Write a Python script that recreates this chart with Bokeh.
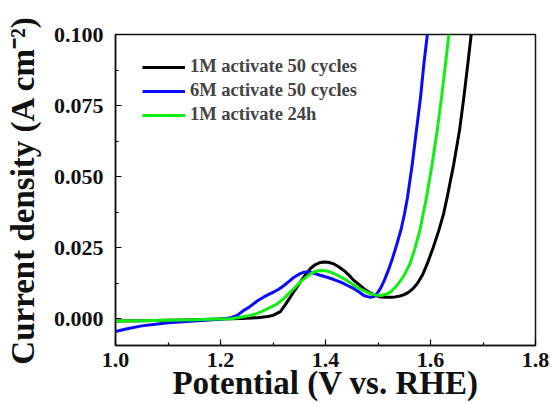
from bokeh.plotting import figure
from bokeh.models import Range1d, FixedTicker, NumeralTickFormatter, Legend, LegendItem
from bokeh.embed import file_html
from bokeh.resources import INLINE

# ---- data ----
black_v = [1.00, 1.05, 1.10, 1.15, 1.20, 1.24, 1.27, 1.29, 1.30, 1.314, 1.323, 1.333, 1.342, 1.352,
           1.362, 1.371, 1.38, 1.39, 1.397, 1.405, 1.416, 1.425, 1.435, 1.445, 1.454, 1.464, 1.473,
           1.486, 1.495, 1.505, 1.515, 1.524, 1.533, 1.542, 1.55, 1.558, 1.566, 1.5746, 1.585, 1.5937,
           1.605, 1.6159, 1.625, 1.6318, 1.6444, 1.6552, 1.6635, 1.6711, 1.6775]
black_j = [-0.0008, -0.0007, -0.0005, -0.0003, -0.0001, 0.0001, 0.0004, 0.0008, 0.0012, 0.0025,
           0.0048, 0.0076, 0.0102, 0.0129, 0.0155, 0.0176, 0.0190, 0.0198, 0.0200, 0.0199, 0.0193,
           0.0183, 0.0170, 0.0153, 0.0135, 0.0120, 0.0106, 0.0090, 0.0082, 0.0077, 0.0076, 0.0076,
           0.0077, 0.0080, 0.0085, 0.0093, 0.0105, 0.0123, 0.0155, 0.0193, 0.0250, 0.0311, 0.0370,
           0.0428, 0.0545, 0.0662, 0.0779, 0.0897, 0.1000]

blue_v = [1.00, 1.02, 1.05, 1.08, 1.10, 1.15, 1.20, 1.22, 1.232, 1.244, 1.254, 1.263, 1.272, 1.282,
          1.291, 1.301, 1.311, 1.321, 1.330, 1.340, 1.350, 1.359, 1.368, 1.378, 1.390, 1.403, 1.416,
          1.429, 1.441, 1.454, 1.464, 1.473, 1.480, 1.486, 1.492, 1.498, 1.505, 1.512, 1.520, 1.528,
          1.536, 1.544, 1.550, 1.556, 1.565, 1.573, 1.581, 1.587, 1.594]
blue_j = [-0.0045, -0.0036, -0.0025, -0.0018, -0.0014, -0.0008, -0.0002, 0.0004, 0.0012, 0.0029,
          0.0040, 0.0053, 0.0065, 0.0076, 0.0085, 0.0094, 0.0104, 0.0117, 0.0131, 0.0146, 0.0157,
          0.0164, 0.0165, 0.0160, 0.0153, 0.0146, 0.0138, 0.0129, 0.0118, 0.0106, 0.0094, 0.0082,
          0.0078, 0.0076, 0.0078, 0.0088, 0.0108, 0.0135, 0.0172, 0.0215, 0.0263, 0.0315, 0.0365,
          0.0425, 0.0540, 0.0660, 0.0779, 0.0890, 0.1000]

green_v = [1.00, 1.05, 1.10, 1.15, 1.20, 1.22, 1.24, 1.257, 1.27, 1.282, 1.295, 1.308, 1.320, 1.333,
           1.342, 1.352, 1.362, 1.371, 1.380, 1.390, 1.400, 1.410, 1.422, 1.435, 1.448, 1.460, 1.473,
           1.486, 1.495, 1.505, 1.515, 1.524, 1.5365, 1.549, 1.5606, 1.570, 1.5797, 1.5924, 1.6032,
           1.6127, 1.621, 1.6286, 1.635]
green_j = [-0.0008, -0.0007, -0.0005, -0.0003, -0.0001, 0.0000, 0.0006, 0.0012, 0.0019, 0.0029,
           0.0040, 0.0053, 0.0070, 0.0094, 0.0111, 0.0129, 0.0145, 0.0158, 0.0166, 0.0170, 0.0169,
           0.0164, 0.0154, 0.0141, 0.0126, 0.0111, 0.0099, 0.0088, 0.0084, 0.0082, 0.0086, 0.0094,
           0.0118, 0.0150, 0.0193, 0.0245, 0.0311, 0.0428, 0.0545, 0.0662, 0.0779, 0.0897, 0.1000]

series_names = ["1M activate 50 cycles", "6M activate 50 cycles", "1M activate 24h"]
series_colors = ["#000000", "#0a0aff", "#11ee11"]

x_major = [1.0, 1.2, 1.4, 1.6, 1.8]
x_minor = [1.1, 1.3, 1.5, 1.7]
y_major = [0.0, 0.025, 0.05, 0.075, 0.1]
y_minor = [0.0125, 0.0375, 0.0625, 0.0875]

x_label = "Potential (V vs. RHE)"
y_label = "Current density (A cm\u207B\u00B2)"

FONT = "Liberation Serif"

p = figure(width=551, height=403, output_backend="svg", toolbar_location=None,
           x_range=Range1d(1.0, 1.8), y_range=Range1d(-0.0094, 0.1),
           min_border_left=115, min_border_right=16, min_border_top=34, min_border_bottom=58)
p.background_fill_color = "white"
p.border_fill_color = "white"
p.grid.visible = False
p.outline_line_color = "#111111"
p.outline_line_width = 1.5

for ax in (p.xaxis[0], p.yaxis[0]):
    ax.axis_line_width = 1.5
    ax.axis_line_color = "#111111"
    ax.major_tick_in = 6
    ax.major_tick_out = 0
    ax.minor_tick_in = 3
    ax.minor_tick_out = 0
    ax.major_tick_line_width = 1.2
    ax.minor_tick_line_width = 1.2
    ax.major_label_text_font = FONT
    ax.major_label_text_font_style = "bold"
    ax.major_label_text_font_size = "22px"
    ax.major_label_text_color = "#111111"
    ax.axis_label_text_font = FONT
    ax.axis_label_text_font_style = "bold"
    ax.axis_label_text_font_size = "33px"
    ax.axis_label_text_color = "#111111"

p.xaxis[0].ticker = FixedTicker(ticks=x_major, minor_ticks=x_minor)
p.yaxis[0].ticker = FixedTicker(ticks=y_major, minor_ticks=y_minor)
p.xaxis[0].formatter = NumeralTickFormatter(format="0.0")
p.yaxis[0].formatter = NumeralTickFormatter(format="0.000")
p.xaxis[0].major_label_standoff = 7
p.yaxis[0].major_label_standoff = 12
p.xaxis[0].axis_label = x_label
p.yaxis[0].axis_label = y_label
p.xaxis[0].axis_label_text_line_height = 0.8
p.xaxis[0].axis_label_standoff = -5
p.yaxis[0].axis_label_standoff = 10

renderers = []
for xs, ys, c in ((black_v, black_j, series_colors[0]),
                  (blue_v, blue_j, series_colors[1]),
                  (green_v, green_j, series_colors[2])):
    renderers.append(p.line(xs, ys, line_color=c, line_width=3, line_join="round"))

legend = Legend(items=[LegendItem(label=n, renderers=[r]) for n, r in zip(series_names, renderers)],
                location=(27, 220), padding=0, margin=0, spacing=3,
                glyph_width=43, glyph_height=20, label_height=20, label_standoff=5,
                label_text_font=FONT, label_text_font_style="bold", label_text_font_size="18.5px",
                background_fill_alpha=0, border_line_color=None)
p.add_layout(legend)

open("out.html", "w").write(file_html(p, INLINE))
